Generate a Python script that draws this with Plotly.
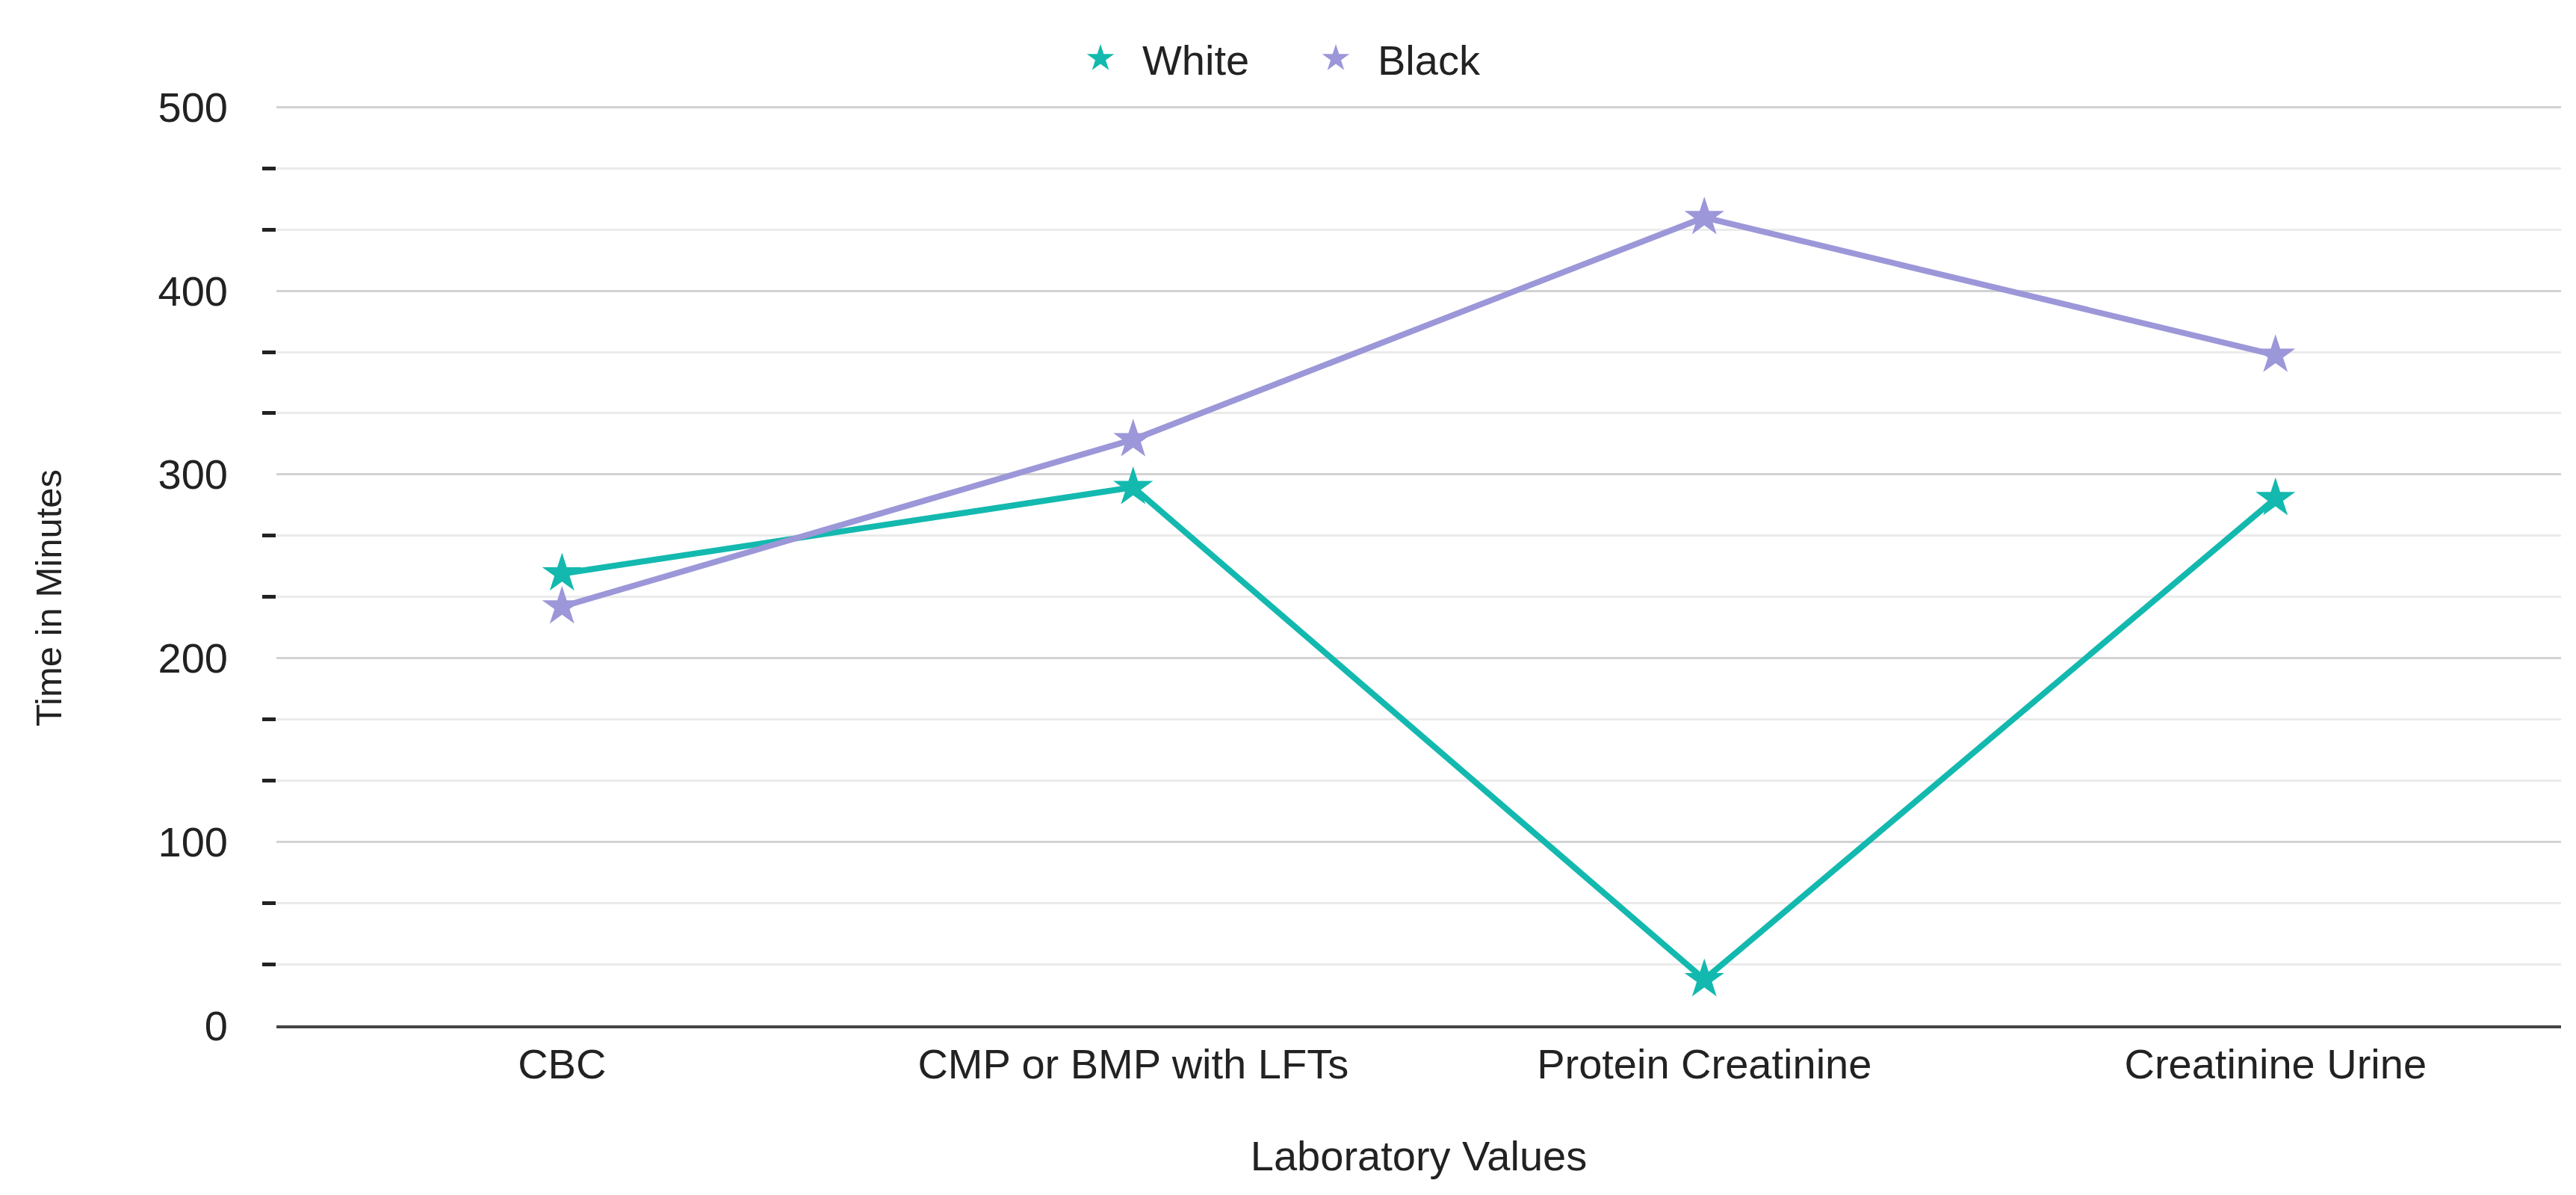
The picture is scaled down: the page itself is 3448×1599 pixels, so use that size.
import plotly.graph_objects as go

categories = ["CBC", "CMP or BMP with LFTs", "Protein Creatinine", "Creatinine Urine"]
white_values = [246, 293, 25, 287]
black_values = [228, 319, 440, 365]
y_tickvals = [0, 100, 200, 300, 400, 500]
y_minor_tickvals = [v + d for v in y_tickvals[:-1] for d in (100 / 3, 200 / 3)]

WHITE_COLOR = "#13b9ae"
BLACK_COLOR = "#9c97d8"
TEXT_COLOR = "#222222"
FONT = "Liberation Sans, Arial, sans-serif"

fig = go.Figure()
for name, vals, color in [("White", white_values, WHITE_COLOR), ("Black", black_values, BLACK_COLOR)]:
    fig.add_trace(go.Scatter(
        x=categories, y=vals, name=name, mode="lines+markers", showlegend=False,
        line=dict(color=color, width=8),
        marker=dict(symbol="star", size=40, color=color, line=dict(width=0)),
    ))
    # legend entry: star marker only
    fig.add_trace(go.Scatter(
        x=[None], y=[None], name=name, mode="markers",
        marker=dict(symbol="star", size=40, color=color, line=dict(width=5, color=color)),
    ))

fig.update_layout(
    width=3448, height=1599,
    margin=dict(l=362, r=28, t=134, b=235, autoexpand=False),
    paper_bgcolor="white", plot_bgcolor="white",
    font=dict(family=FONT, size=56, color=TEXT_COLOR),
    legend=dict(orientation="h", xref="container", yref="container",
                x=0.5, xanchor="center", y=0.956, yanchor="middle",
                font=dict(size=56, color=TEXT_COLOR), itemsizing="trace", itemwidth=102,
                entrywidth=198, tracegroupgap=0),
    annotations=[dict(
        text="Time in Minutes", textangle=-90, xref="paper", yref="paper",
        x=(57 - 362) / (3420 - 362), y=(1364 - 792) / (1364 - 134),
        xanchor="center", yanchor="middle", showarrow=False,
        font=dict(size=49, color=TEXT_COLOR),
    )],
)
fig.update_xaxes(
    type="category", range=[-0.5, 3.5], automargin=False,
    showgrid=False, showline=True, linecolor="#444444", linewidth=4,
    ticks="", zeroline=False,
    tickfont=dict(size=56, color=TEXT_COLOR), ticklabelstandoff=0,
    title=dict(text="Laboratory Values", font=dict(size=56, color=TEXT_COLOR), standoff=74),
)
fig.update_yaxes(
    range=[0, 500.6], tickvals=y_tickvals, showline=False, zeroline=False, automargin=False,
    showgrid=True, gridcolor="#d2d2d2", gridwidth=3,
    ticks="", tickfont=dict(size=56, color=TEXT_COLOR), ticklabelstandoff=64,
    minor=dict(tickvals=y_minor_tickvals, showgrid=True, gridcolor="#ebebeb", gridwidth=3,
               ticks="outside", ticklen=18, tickwidth=5, tickcolor=TEXT_COLOR),
)

fig.write_html("out.html")
